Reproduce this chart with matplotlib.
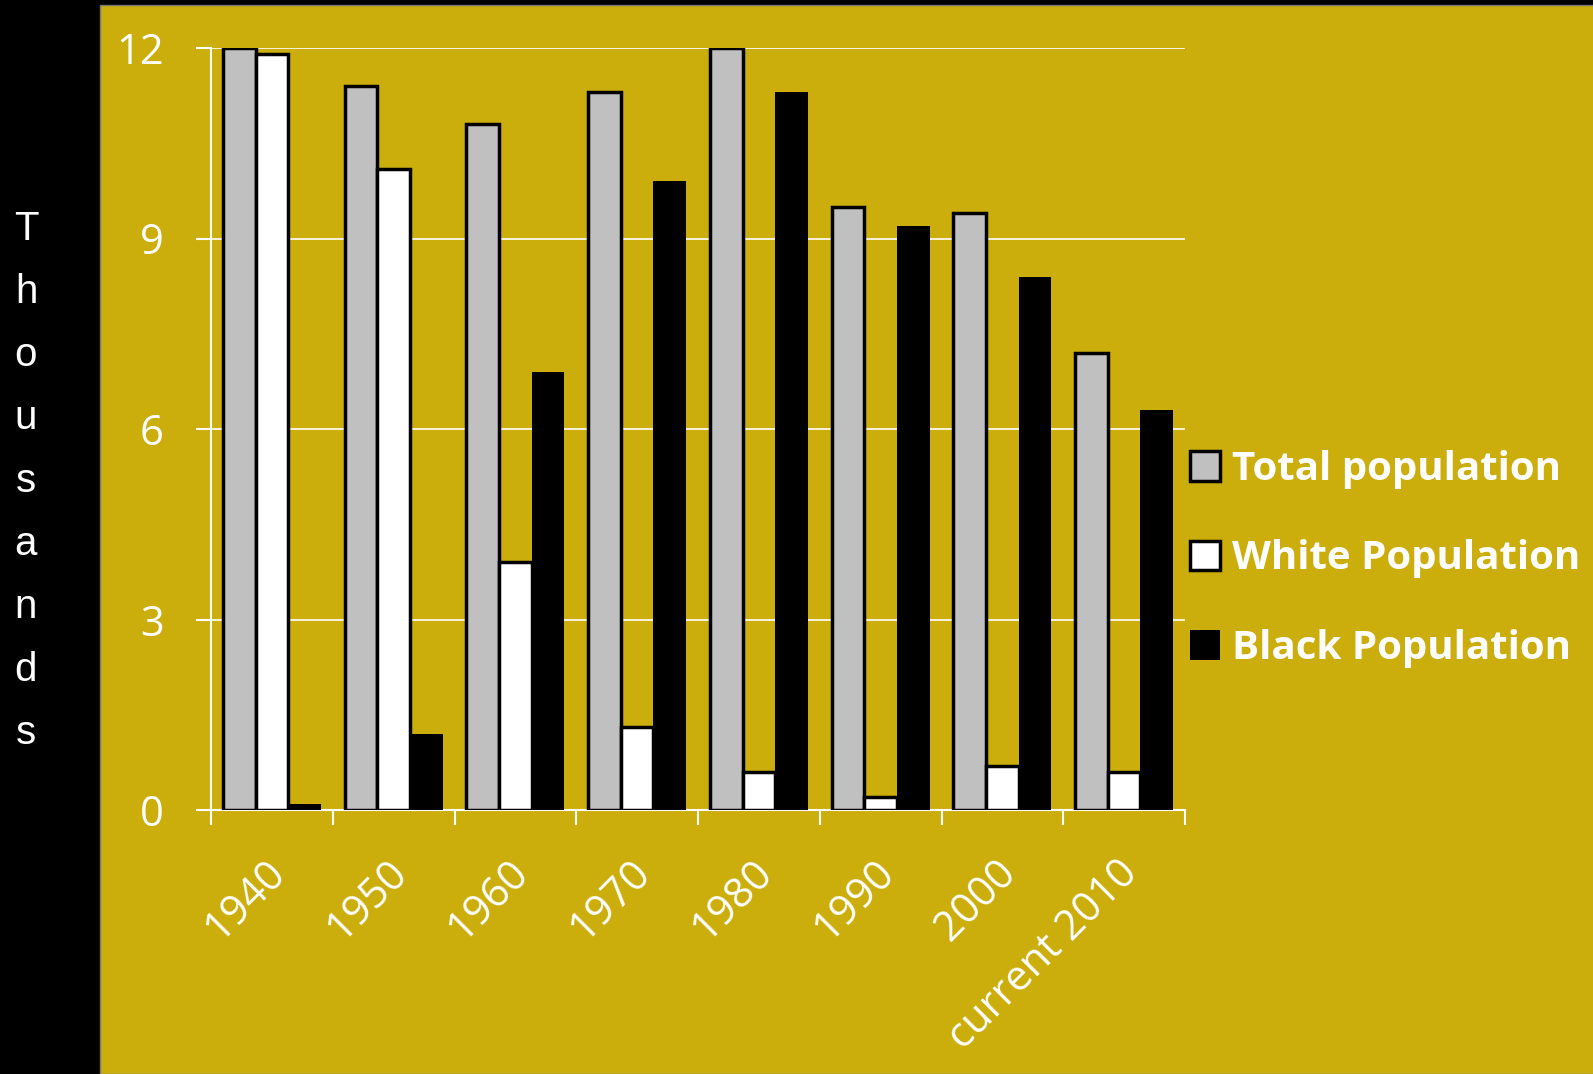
import numpy as np
import matplotlib.pyplot as plt
from matplotlib.patches import Rectangle
from matplotlib.transforms import ScaledTranslation

decades = ['1940', '1950', '1960', '1970', '1980', '1990', '2000', 'current 2010']
total_pop = [12.0, 11.4, 10.8, 11.3, 12.0, 9.5, 9.4, 7.2]
white_pop = [11.9, 10.1, 3.9, 1.3, 0.6, 0.2, 0.7, 0.6]
black_pop = [0.1, 1.2, 6.9, 9.9, 11.3, 9.2, 8.4, 6.3]

gold = '#cbae0b'
W, H = 1593, 1074

fig = plt.figure(figsize=(15.93, 10.74), dpi=100)
fig.patch.set_facecolor('black')
bg = Rectangle((100 / W, 0), 1, 1 - 5 / H, transform=fig.transFigure,
               facecolor=gold, edgecolor='#777777', linewidth=1, zorder=-5)
fig.patches.append(bg)

ax = fig.add_axes([211 / W, 1 - 810 / H, 974 / W, 762 / H])
ax.set_facecolor('none')

x = np.arange(len(decades))
w = 0.268
ax.bar(x - w, total_pop, w, color='#c0c0c0', edgecolor='black', linewidth=2.5,
       label='Total population', zorder=3)
ax.bar(x, white_pop, w, color='white', edgecolor='black', linewidth=2.5,
       label='White Population', zorder=3)
ax.bar(x + w, black_pop, w, color='black', edgecolor='black', linewidth=0,
       label='Black Population', zorder=3)

ax.set_xlim(-0.5, len(decades) - 0.5)
ax.set_ylim(0, 12)
ax.set_yticks([0, 3, 6, 9, 12])
ax.yaxis.grid(True, color='white', linewidth=1.2, zorder=1)
ax.set_axisbelow(True)

for s in ['top', 'right']:
    ax.spines[s].set_visible(False)
ax.spines['left'].set_color('white')
ax.spines['bottom'].set_color('white')
ax.spines['left'].set_linewidth(1.5)
ax.spines['bottom'].set_linewidth(1.5)

ax.set_xticks(np.arange(len(decades) + 1) - 0.5, minor=False)
ax.set_xticklabels([])
ax.set_xticks(x, minor=True)
ax.tick_params(axis='x', which='major', length=11, width=1.5, color='white')
ax.tick_params(axis='x', which='minor', length=0, pad=30)
ax.tick_params(axis='y', length=11, width=1.5, color='white', labelcolor='white',
               labelsize=30, pad=23)
ax.set_xticklabels(decades, minor=True, rotation=45, ha='right', rotation_mode='anchor',
                   fontsize=30, color='white', family='Open Sans')
shift = ScaledTranslation(-8 / 100, 0, fig.dpi_scale_trans)
for lbl in ax.get_xticklabels(minor=True):
    lbl.set_transform(lbl.get_transform() + shift)
for lbl in ax.get_yticklabels():
    lbl.set_family('Open Sans')

fig.text(26 / W, 1 - 481 / H, '\n'.join('Thousands'), color='white',
         fontsize=29, family='Liberation Sans', ha='center', va='center', linespacing=1.83)

leg = fig.legend(loc='upper left', bbox_to_anchor=(1174 / W, 1 - 434 / H),
                 frameon=False, handlelength=0.75, handleheight=0.75, handletextpad=0.3,
                 labelspacing=1.25, borderaxespad=0,
                 prop={'family': 'Open Sans', 'weight': 'bold', 'size': 29})
for t in leg.get_texts():
    t.set_color('white')

fig.savefig('out.png', dpi=100, facecolor=fig.get_facecolor())
